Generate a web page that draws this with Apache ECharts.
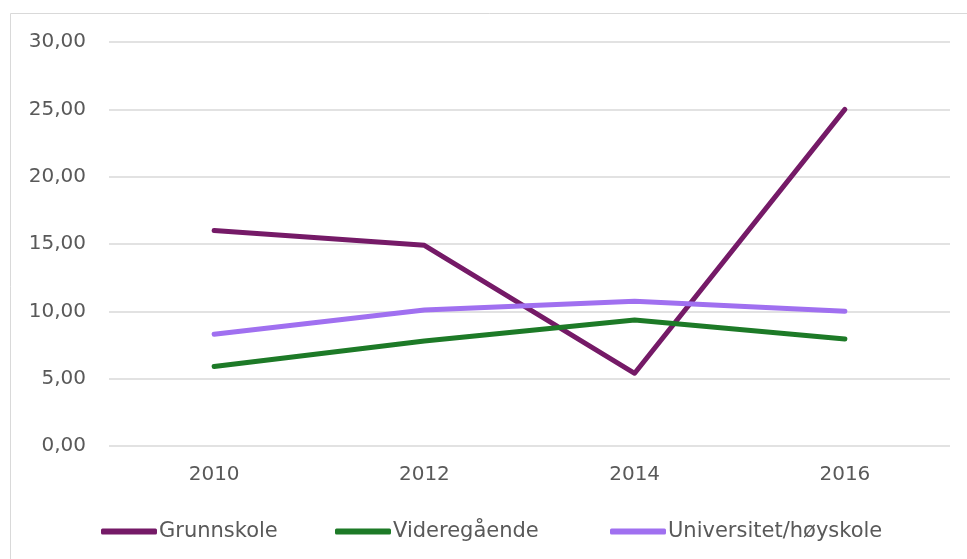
<!DOCTYPE html>
<html>
<head>
<meta charset="utf-8">
<script src="https://cdn.jsdelivr.net/npm/echarts@6/dist/echarts.min.js"></script>
<style>
  html, body { margin: 0; padding: 0; background: #fff; }
  #chart { width: 967px; height: 559px; }
</style>
</head>
<body>
<div id="chart"></div>
<script>
var years = ["2010", "2012", "2014", "2016"];
var seriesNames = ["Grunnskole", "Videregående", "Universitet/høyskole"];
var grunnskole = [16.0, 14.9, 5.4, 25.0];
var videregaende = [5.9, 7.8, 9.35, 7.95];
var universitet = [8.3, 10.1, 10.75, 10.0];
var colors = ["#751a67", "#1d7a27", "#a070f0"];

var chartDom = document.getElementById("chart");
var myChart = echarts.init(chartDom);
var font = "DejaVu Sans";

// one legend per item so the spacing matches the original
var legendLeft = [96, 330, 605];
var legends = seriesNames.map(function (name, i) {
  return {
    top: 516,
    left: legendLeft[i],
    itemWidth: 56,
    itemHeight: 6,
    icon: "roundRect",
    textStyle: { color: "#595959", fontSize: 21, fontFamily: font, padding: [0, 0, 0, -3] },
    data: [name],
  };
});

function lineSeries(name, data, color) {
  return {
    name: name,
    type: "line",
    data: data,
    symbol: "none",
    color: color,
    lineStyle: { width: 5, cap: "round", join: "round" },
  };
}

var option = {
  animation: false,
  textStyle: { fontFamily: font },
  graphic: [
    {
      type: "rect",
      shape: { x: 10.5, y: 13.5, width: 1000, height: 600 },
      style: { fill: "none", stroke: "#d9d9d9", lineWidth: 1 },
    },
  ],
  grid: {
    left: 109,
    right: 17,
    top: 42,
    bottom: 113,
  },
  legend: legends,
  xAxis: {
    type: "category",
    data: years,
    boundaryGap: true,
    axisLine: { show: false },
    axisTick: { show: false },
    axisLabel: { color: "#595959", fontSize: 20, margin: 19 },
  },
  yAxis: {
    type: "value",
    min: 0,
    max: 30,
    interval: 5,
    axisLine: { show: false },
    axisTick: { show: false },
    axisLabel: {
      color: "#595959",
      fontSize: 20,
      margin: 23,
      formatter: function (v) {
        return v.toFixed(2).replace(".", ",");
      },
    },
    splitLine: { lineStyle: { color: "#d9d9d9", width: 1.5 } },
  },
  series: [
    lineSeries(seriesNames[0], grunnskole, colors[0]),
    lineSeries(seriesNames[1], videregaende, colors[1]),
    lineSeries(seriesNames[2], universitet, colors[2]),
  ],
};

option && myChart.setOption(option);
</script>
</body>
</html>
